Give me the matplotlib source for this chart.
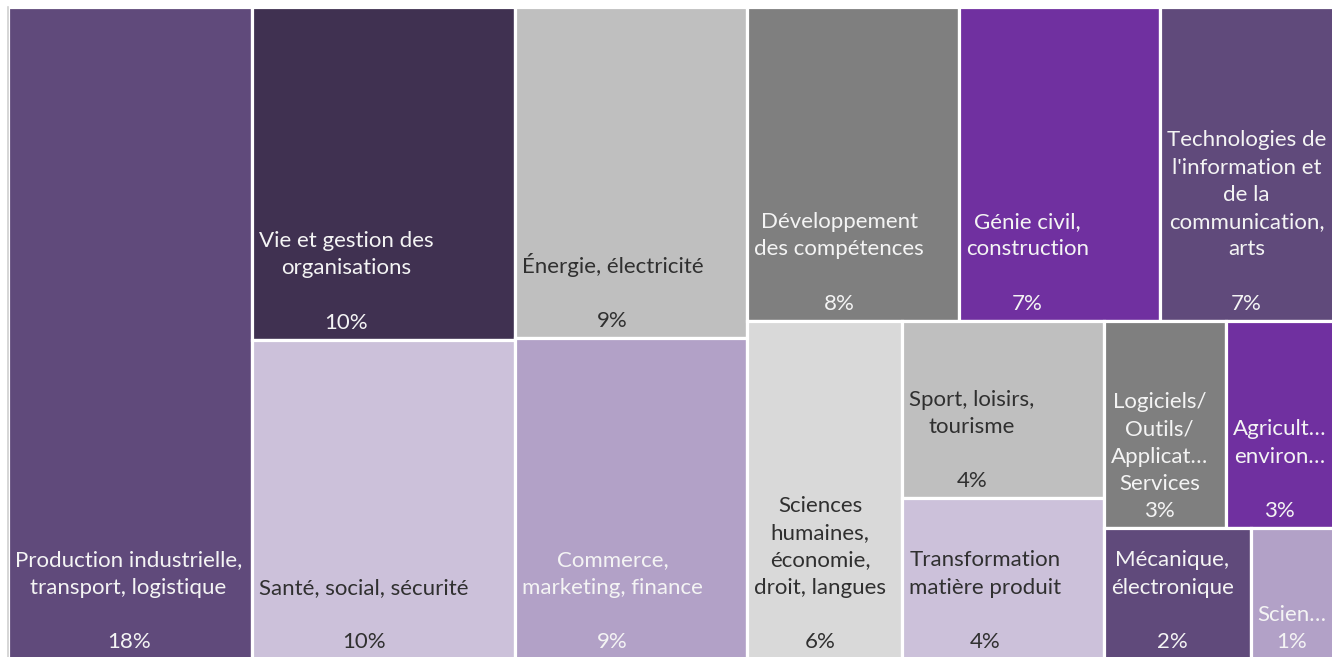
import matplotlib
matplotlib.use("Agg")
import matplotlib.pyplot as plt
from matplotlib.patches import Rectangle

# ---- data ----
labels = [
    "Production industrielle,\ntransport, logistique",
    "Vie et gestion des\norganisations",
    "Santé, social, sécurité",
    "Énergie, électricité",
    "Commerce,\nmarketing, finance",
    "Développement\ndes compétences",
    "Génie civil,\nconstruction",
    "Technologies de\nl'information et\nde la\ncommunication,\narts",
    "Sciences\nhumaines,\néconomie,\ndroit, langues",
    "Sport, loisirs,\ntourisme",
    "Transformation\nmatière produit",
    "Logiciels/\nOutils/\nApplicat…\nServices",
    "Agricult…\nenviron…",
    "Mécanique,\nélectronique",
    "Scien…",
]
values = [18.2, 10.0, 9.6, 8.8, 8.52, 7.6, 7.2, 6.6, 6.0, 4.1, 3.7, 2.9, 2.8, 2.2, 1.4]
colors = ["#604A7B", "#403151", "#CCC1DA", "#BFBFBF", "#B2A1C7",
          "#7F7F7F", "#7030A0", "#604A7B", "#D9D9D9", "#BFBFBF",
          "#CCC1DA", "#7F7F7F", "#7030A0", "#604A7B", "#B2A1C7"]
text_colors = ["w", "w", "k", "k", "w", "w", "w", "w", "k", "k", "k", "w", "w", "w", "w"]
blank_line = [True] * 11 + [False, True, True, False]

# nesting of the treemap (indices into the lists above)
layout = [[0], [1, 2], [3, 4], [[5, 6, 7], [[8], [9, 10], [[11, 12], [13, 14]]]]]

# ---- layout computation ----
def total(node):
    if isinstance(node, int):
        return values[node]
    return sum(total(c) for c in node)

rects = {}

def place(node, x, y, w, h, horizontal):
    if isinstance(node, int):
        rects[node] = (x, y, w, h)
        return
    if len(node) == 1:
        place(node[0], x, y, w, h, horizontal)
        return
    s = total(node)
    if horizontal:
        cx = x
        for c in node:
            cw = w * total(c) / s
            place(c, cx, y, cw, h, not horizontal)
            cx += cw
    else:
        cy = y + h  # start at top
        for c in node:
            ch = h * total(c) / s
            place(c, x, cy - ch, w, ch, not horizontal)
            cy -= ch

W, H = 1336.0, 652.0
place(layout, 0, 0, W, H, True)

# ---- drawing ----
plt.rcParams['font.family'] = ['Lato', 'DejaVu Sans']
fig = plt.figure(figsize=(13.32, 6.57), dpi=100)
fig.patch.set_facecolor("white")
ax = fig.add_axes([8 / 1332, -2 / 657, W / 1332, H / 657])
ax.set_xlim(0, W)
ax.set_ylim(0, H)
ax.axis("off")

ax.plot([0, 0], [0, H], color="#D0D0D0", lw=1.2, clip_on=False)

for i, (x, y, w, h) in rects.items():
    ax.add_patch(Rectangle((x, y), w, h, facecolor=colors[i], edgecolor="white", lw=2.3))
    sep = "\n\n" if blank_line[i] else "\n"
    txt = f"{labels[i]}{sep}{round(values[i])}%"
    tc = "#F4F4F4" if text_colors[i] == "w" else "#303030"
    ax.text(x + 7, y + 7, txt, ha="left", va="bottom", multialignment="center",
            fontsize=16, color=tc, linespacing=1.45)

fig.savefig("out.png", dpi=100, facecolor="white")
